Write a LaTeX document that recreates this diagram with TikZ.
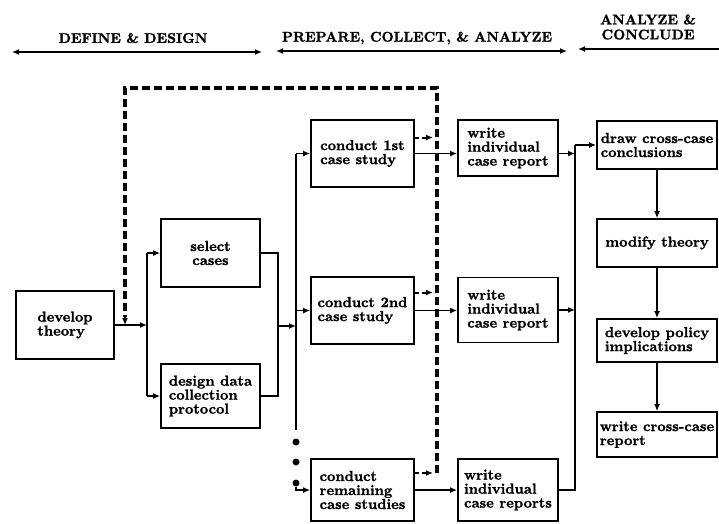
\documentclass[tikz,border=0pt]{standalone}
\usepackage{fontspec}
\usepackage{tikz}
\usetikzlibrary{arrows.meta,positioning}
\newfontfamily\heavyface{lmroman10-bold.otf}[FakeBold=1.5]

\begin{document}
\begin{tikzpicture}
		[x=1pt,y=-1pt,>={Latex[length=7pt,width=6pt]},
		box/.style={draw,line width=1.8pt,align=left,inner sep=3pt,font=\heavyface\fontsize{14.5}{14}\selectfont},
		head/.style={align=center,font=\heavyface\fontsize{14}{15}\selectfont},
		wire/.style={line width=1.5pt},
		loop line/.style={line width=3.5pt,dash pattern=on 8pt off 4pt},
		loop tip/.style={line width=2pt,dash pattern=on 4pt off 3pt,shorten >=4pt},
		dot/.style={circle,fill,inner sep=0pt,minimum size=7pt}]
		\useasboundingbox (0,0) rectangle (719,523);
		
		\node[head] (h1) at (133,38) {DEFINE \& DESIGN};
		\node[head] (h2) at (417,38) {PREPARE, COLLECT, \& ANALYZE};
		\node[head] (h3) at (648,27) {ANALYZE \&\\CONCLUDE};
		\coordinate (a1) at (12,52);
		\coordinate (a2) at (262,52);
		\coordinate (a3) at (276,51);
		\coordinate (a4) at (567,51);
		\coordinate (a5) at (578,49);
		\coordinate (a6) at (719,49);
		\draw[wire,<->] (a1) to (a2);
		\draw[wire,<->] (a3) to (a4);
		\draw[wire,<-] (a5) to (a6);
		
		\node[box] (1) at (65,325) [minimum width=98,minimum height=68] {develop\\theory};
		\node[box] (2) at (210.5,253) [minimum width=99,minimum height=68,align=center] {select\\cases};
		\node[box] (3) at (210.5,396) [minimum width=99,minimum height=64] {design data\\collection\\protocol};
		\node[box] (4) at (362.5,153.5) [minimum width=103,minimum height=67] {conduct 1st\\case study};
		\node[box] (5) at (362.5,310.5) [minimum width=103,minimum height=67] {conduct 2nd\\case study};
		\node[box] (6) at (362.5,490) [minimum width=103,minimum height=62] {conduct\\remaining\\case studies};
		\node[box] (7) at (508,148) [minimum width=100,minimum height=56] {write\\individual\\case report};
		\node[box] (8) at (508,310) [minimum width=100,minimum height=65] {write\\individual\\case report};
		\node[box] (9) at (508,490) [minimum width=100,minimum height=62] {write\\individual\\case reports};
		\node[box] (10) at (657,145) [minimum width=120,minimum height=48] {draw cross-case\\conclusions};
		\node[box] (11) at (657,243) [minimum width=120,minimum height=48] {modify theory};
		\node[box] (12) at (657,340.5) [minimum width=120,minimum height=43] {develop policy\\implications};
		\node[box] (13) at (657,434.5) [minimum width=120,minimum height=45] {write cross-case\\report};
		
		\coordinate (b1) at (147,253);
		\coordinate (b2) at (147,396);
		\coordinate (j1) at (278,326);
		\coordinate (b3) at (296,153.5);
		\coordinate (b4) at (296,430);
		\coordinate (b5) at (575,145);
		\node[dot] (d1) at (296,442) {};
		\node[dot] (d2) at (296,462) {};
		\node[dot] (d3) at (296,483) {};
		\coordinate (f1) at (437,473);
		\coordinate (f2) at (437,88);
		\coordinate (f3) at (125,88);
		
		\draw[wire,->] (1.east) to (1.east -| b1);
		\draw[wire] (b1) to (b2);
		\draw[wire,->] (b1) to (2.west);
		\draw[wire,->] (b2) to (3.west);
		\draw[wire] (2.east) -| (j1);
		\draw[wire] (3.east) -| (j1);
		\draw[wire,->] (j1) to (j1 -| b3);
		\draw[wire] (b3) to (b4);
		\draw[wire,->] (b3) to (4.west);
		\draw[wire,->] (b3 |- 5.west) to (5.west);
		\draw[wire,->] (d3) |- (6.west);
		
		\draw[wire,->] (4.east) to (4.east -| 7.west);
		\draw[wire,->] (5.east) to (5.east -| 8.west);
		\draw[wire,->] (6.east) to (6.east -| 9.west);
		\draw[wire,->] (7.east |- 4.east) to (b5 |- 4.east);
		\draw[wire,->] (8.east) to (8.east -| b5);
		\draw[wire] (9.east) -| (b5);
		\draw[wire,->] (b5) to (10.west);
		\draw[wire,->] (10) to (11);
		\draw[wire,->] (11) to (12);
		\draw[wire,->] (12) to (13);
		
		\draw[loop line] (f1) -- (f2) -- (f3) -- ([yshift=8pt]f3 |- 1.east);
		\draw[wire,->,line width=2pt] ([yshift=9pt]f3 |- 1.east) to (f3 |- 1.east);
		\draw[loop tip,->] ([yshift=16pt]4.east) to ([yshift=16pt]4.east -| f1);
		\draw[loop tip,->] ([yshift=18pt]5.east) to ([yshift=18pt]5.east -| f1);
		\draw[loop tip,->] ([yshift=17pt]6.east) to (f1);
		\end{tikzpicture}
\end{document}
